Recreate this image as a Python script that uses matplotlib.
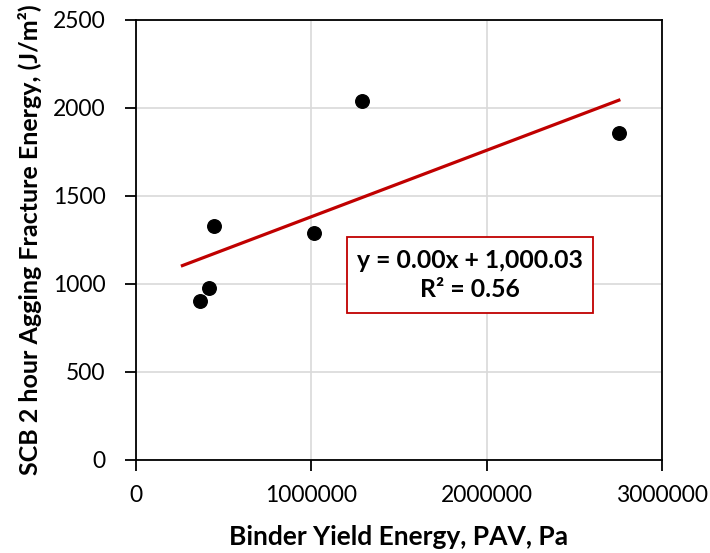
import numpy as np
import matplotlib
matplotlib.use("Agg")
from matplotlib import pyplot as plt
from matplotlib.patches import Rectangle

# data
yield_energy = [364700, 417700, 442700, 1012500, 1291700, 2754000]
fracture_energy = [905, 975, 1331, 1291, 2042, 1856]
x_ticks = [0, 1000000, 2000000, 3000000]
y_ticks = [0, 500, 1000, 1500, 2000, 2500]
eq_text = "y = 0.00x + 1,000.03\nR² = 0.56"

plt.rcParams['font.family'] = ['Lato', 'DejaVu Sans']

fig = plt.figure(figsize=(7.1, 5.53), dpi=100)
ax = fig.add_axes([136 / 710, 93 / 553, 526 / 710, 440 / 553])

# linear trendline, Excel style with a short backward forecast
k, b = np.polyfit(yield_energy, fracture_energy, 1)
xl = np.array([min(yield_energy) - 100000, max(yield_energy)])
ax.plot(xl, k * xl + b, color='#C00000', lw=2.3, zorder=2)

ax.scatter(yield_energy, fracture_energy, s=95, color='black', zorder=3)

ax.set_xlim(0, 3000000)
ax.set_ylim(0, 2500)
ax.set_xticks(x_ticks)
ax.set_xticklabels([str(v) for v in x_ticks])
ax.set_yticks(y_ticks)
ax.grid(True, color='#d9d9d9', lw=1.2, zorder=0)
ax.set_axisbelow(True)
for s in ax.spines.values():
    s.set_color('black')
    s.set_linewidth(1.3)
ax.tick_params(direction='out', length=8, width=1.3, labelsize=16.5)
ax.tick_params(axis='y', pad=14)
ax.tick_params(axis='x', pad=10)

ax.set_xlabel("Binder Yield Energy, PAV, Pa", fontsize=19, fontweight='bold', labelpad=14)
ax.set_ylabel("SCB 2 hour Agging Fracture Energy, (J/m²)", fontsize=18, fontweight='bold', labelpad=8)

# trendline label box
ax.add_patch(Rectangle((0.401, 0.334), 0.468, 0.173, transform=ax.transAxes,
                       fc='white', ec='#C00000', lw=1.3, zorder=4))
ax.text(0.635, 0.42, eq_text, transform=ax.transAxes, ha='center', va='center',
        fontsize=17.8, fontweight='bold', linespacing=1.3, zorder=5)

fig.savefig("out.png", dpi=100)
